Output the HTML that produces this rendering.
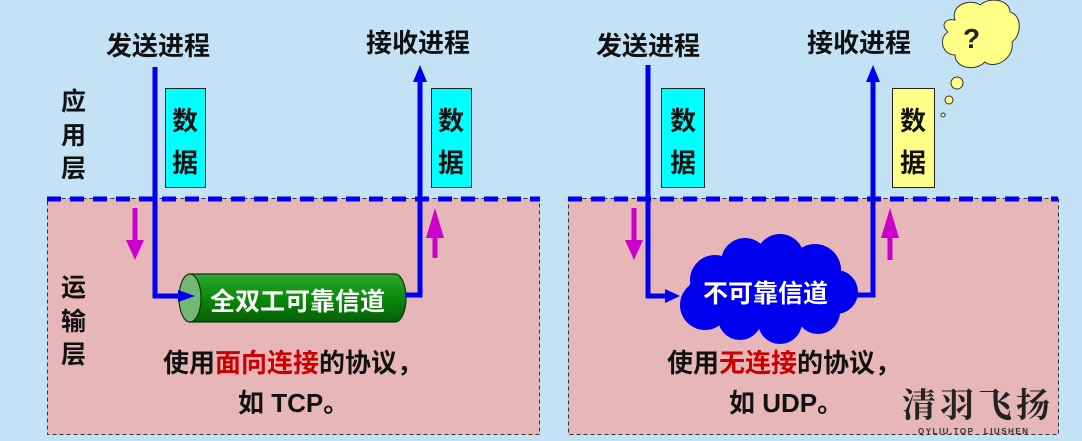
<!DOCTYPE html>
<html><head><meta charset="utf-8"><style>
html,body{margin:0;padding:0;background:#c4e2f5;}
svg{display:block}
text{font-family:"Liberation Sans","Noto Sans CJK SC",sans-serif;font-weight:bold;}
</style></head><body>
<svg width="1082" height="441" viewBox="0 0 1082 441">
<defs>
<linearGradient id="cyl" x1="0" y1="0" x2="0" y2="1">
<stop offset="0" stop-color="#2ea82e"/><stop offset="0.5" stop-color="#0b8a0b"/><stop offset="1" stop-color="#066006"/>
</linearGradient>
</defs>
<rect width="1082" height="441" fill="#c4e2f5"/>
<!-- panels -->
<rect x="47.5" y="198.5" width="492" height="236" fill="#e6b6b8" stroke="#333" stroke-dasharray="4,3"/>
<rect x="568.5" y="198.5" width="490" height="236" fill="#e6b6b8" stroke="#333" stroke-dasharray="4,3"/>
<line x1="47" y1="199" x2="540" y2="199" stroke="#0000ee" stroke-width="5" stroke-dasharray="14,9"/>
<line x1="568" y1="199" x2="1058" y2="199" stroke="#0000ee" stroke-width="5" stroke-dasharray="14,9"/>
<!-- layer labels -->
<g font-size="25" fill="#111">
<text x="61" y="110">应</text><text x="61" y="144">用</text><text x="61" y="177">层</text>
<text x="61" y="296">运</text><text x="61" y="330">输</text><text x="61" y="363">层</text>
</g>
<!-- left -->
<text x="106" y="55" font-size="26" fill="#111">发送进程</text>
<text x="366" y="52" font-size="26" fill="#111">接收进程</text>
<rect x="165.5" y="88.5" width="40" height="99" fill="#00ffff" stroke="#222"/>
<text x="172" y="130" font-size="26" fill="#111">数</text><text x="172" y="172" font-size="26" fill="#111">据</text>
<rect x="431.5" y="88.5" width="40" height="99" fill="#00ffff" stroke="#222"/>
<text x="438" y="130" font-size="26" fill="#111">数</text><text x="438" y="172" font-size="26" fill="#111">据</text>
<polyline points="155,67 155,296 180,296" fill="none" stroke="#0000ee" stroke-width="5"/>
<!-- cylinder -->
<path d="M190,274 L395,274 A11,24 0 0 1 395,322 L190,322 Z" fill="url(#cyl)" stroke="#113311" stroke-width="1.2"/>
<ellipse cx="190" cy="298" rx="11" ry="24" fill="#72b872" stroke="#113311" stroke-width="1.2"/>
<polygon points="178,290 195,296 178,302" fill="#0000ee"/>
<text x="210" y="310" font-size="25" fill="#fff">全双工可靠信道</text>
<polyline points="406,295 420,295 420,80" fill="none" stroke="#0000ee" stroke-width="5"/>
<polygon points="413,82 420,65 427,82" fill="#0000ee"/>
<!-- magenta -->
<line x1="135" y1="208" x2="135" y2="245" stroke="#cc00cc" stroke-width="5"/>
<polygon points="126,240 144,240 135,260" fill="#cc00cc"/>
<line x1="435" y1="258" x2="435" y2="225" stroke="#cc00cc" stroke-width="5"/>
<polygon points="426,238 444,238 435,208" fill="#cc00cc"/>
<text x="293" y="372" font-size="26" fill="#111" text-anchor="middle">使用<tspan fill="#cc0000">面向连接</tspan>的协议，</text>
<text x="238" y="412" font-size="26" fill="#111">如 TCP。</text>
<!-- right -->
<text x="596" y="55" font-size="26" fill="#111">发送进程</text>
<text x="807" y="52" font-size="26" fill="#111">接收进程</text>
<rect x="661.5" y="88.5" width="43" height="99" fill="#00ffff" stroke="#222"/>
<text x="670" y="130" font-size="26" fill="#111">数</text><text x="670" y="172" font-size="26" fill="#111">据</text>
<rect x="892.5" y="88.5" width="42" height="99" fill="#ffff88" stroke="#222"/>
<text x="900" y="130" font-size="26" fill="#111">数</text><text x="900" y="172" font-size="26" fill="#111">据</text>
<polyline points="648,65 648,296 672,296" fill="none" stroke="#0000ee" stroke-width="5"/>
<polygon points="665,289 680,296 665,303" fill="#0000ee"/>
<!-- cloud -->
<g fill="#0000ee">
<ellipse cx="768" cy="292" rx="80" ry="36"/>
<circle cx="715" cy="280" r="25"/><circle cx="745" cy="262" r="24"/><circle cx="780" cy="258" r="24"/>
<circle cx="815" cy="270" r="26"/><circle cx="836" cy="292" r="22"/><circle cx="705" cy="305" r="25"/>
<circle cx="740" cy="318" r="22"/><circle cx="780" cy="322" r="22"/><circle cx="818" cy="312" r="22"/>
</g>
<text x="703" y="302" font-size="25" fill="#fff">不可靠信道</text>
<polyline points="852,295 873,295 873,80" fill="none" stroke="#0000ee" stroke-width="5"/>
<polygon points="866,82 873,65 880,82" fill="#0000ee"/>
<line x1="634" y1="208" x2="634" y2="245" stroke="#cc00cc" stroke-width="5"/>
<polygon points="625,240 643,240 634,260" fill="#cc00cc"/>
<line x1="890" y1="260" x2="890" y2="225" stroke="#cc00cc" stroke-width="5"/>
<polygon points="881,238 899,238 890,208" fill="#cc00cc"/>
<text x="784" y="372" font-size="26" fill="#111" text-anchor="middle">使用<tspan fill="#cc0000">无连接</tspan>的协议，</text>
<text x="729" y="412" font-size="26" fill="#111">如 UDP。</text>
<!-- thought cloud -->
<g fill="#ffff88" stroke="#333" stroke-width="1">
<path d="M955,20 C950,5 970,-2 980,5 C990,-4 1010,0 1010,12 C1022,15 1022,35 1012,42 C1015,58 995,70 985,62 C975,72 955,68 955,55 C942,55 938,38 948,32 C940,25 945,18 955,20 Z"/>
<circle cx="957" cy="83" r="6"/><circle cx="949" cy="100" r="4"/><circle cx="943" cy="115" r="2"/>
</g>
<text x="963" y="48" font-size="28" fill="#222">?</text>
<!-- watermark -->
<text x="902" y="417" font-size="34" fill="#222" font-family="Liberation Serif" style="font-family:'Noto Serif CJK SC',serif;letter-spacing:4px">清羽飞扬</text>
<text x="918" y="434" font-size="8" fill="#333" letter-spacing="1.5">QYLIU.TOP　LIUSHEN</text>
</svg>
</body></html>
